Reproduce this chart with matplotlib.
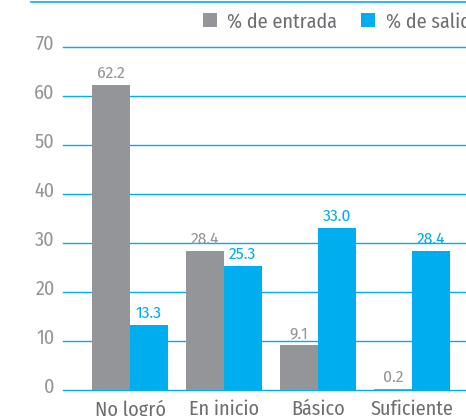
import matplotlib
matplotlib.use("Agg")
import matplotlib.pyplot as plt
import matplotlib.transforms as mtransforms
import numpy as np

categories = ["No logró", "En inicio", "Básico", "Suficiente"]
entrada = [62.2, 28.4, 9.1, 0.2]
salida = [13.3, 25.3, 33.0, 28.4]
series_names = ["% de entrada", "% de salida"]
yticks = [0, 10, 20, 30, 40, 50, 60, 70]

GRAY = "#939598"
BLUE = "#00AEEF"
DARK = "#6D6E71"

plt.rcParams['font.family'] = ['Fira Sans Condensed', 'DejaVu Sans']
plt.rcParams['font.weight'] = 'normal'

W, H = 466, 416
fig = plt.figure(figsize=(W / 100, H / 100), dpi=100)

left_px, right_px = 63, 466
bottom_px, top_px = 390, 47
ax = fig.add_axes([left_px / W, (H - bottom_px) / H,
                   (right_px - left_px) / W, (bottom_px - top_px) / H])

x = np.arange(len(categories))
bw = 0.4
b1 = ax.bar(x - bw / 2, entrada, bw, color=GRAY, label=series_names[0], zorder=3)
b2 = ax.bar(x + bw / 2, salida, bw, color=BLUE, label=series_names[1], zorder=3)

for xi, v in zip(x, entrada):
    ax.text(xi - bw / 2, v + 0.8, f"{v:.1f}", ha="center", va="bottom",
            color=GRAY, fontsize=12.5)
for xi, v in zip(x, salida):
    ax.text(xi + bw / 2, v + 0.8, f"{v:.1f}", ha="center", va="bottom",
            color=BLUE, fontsize=12.5)

ax.set_xlim(-0.713, 3.574)
ax.set_ylim(0, 70)
ax.set_yticks(yticks)
ax.set_yticklabels([str(t) for t in yticks])
ax.set_xticks(x)
ax.set_xticklabels(categories)
ax.yaxis.grid(True, color=BLUE, linewidth=1.0, zorder=0)
for gl in ax.yaxis.get_gridlines():
    gl.set_clip_on(False)
ax.set_axisbelow(True)
for s in ax.spines.values():
    s.set_visible(False)
ax.tick_params(axis="both", length=0, colors=GRAY)
ax.tick_params(axis="y", pad=6, labelsize=14.5)
ax.tick_params(axis="x", pad=7, labelcolor=DARK, labelsize=14.5)
offset = mtransforms.ScaledTranslation(0, 5 / 100, fig.dpi_scale_trans)
for lbl in ax.get_yticklabels():
    lbl.set_transform(lbl.get_transform() + offset)

# top rule
fig.add_artist(plt.Line2D([31 / W, 1.0], [1 - 2 / H, 1 - 2 / H],
                          color=BLUE, linewidth=1.2, transform=fig.transFigure))

leg = fig.legend(handles=[b1, b2], labels=series_names, ncol=2,
                 loc="upper left", bbox_to_anchor=(203 / W, 1 - 12 / H),
                 frameon=False, fontsize=14.5, handlelength=0.7, handleheight=0.7,
                 handletextpad=0.5, columnspacing=1.2, borderpad=0, borderaxespad=0)
for t in leg.get_texts():
    t.set_color(DARK)

fig.savefig("out.png", dpi=100)
